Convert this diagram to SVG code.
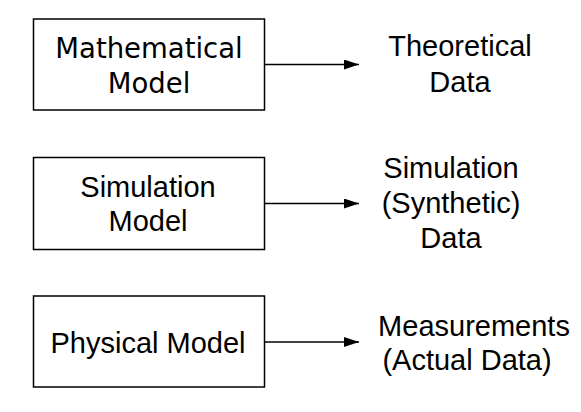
<svg xmlns="http://www.w3.org/2000/svg" width="581" height="412" viewBox="0 0 581 412">
<style>
.box{fill:#fff;stroke:#000;stroke-width:1.5}
.lbl{font-family:"Liberation Sans",Arial,Helvetica,sans-serif;font-size:29px;fill:#000;text-anchor:middle}
.lg{font-family:"DejaVu Sans","Liberation Sans",sans-serif;font-size:27.5px}
.conn{stroke:#000;stroke-width:1.3;fill:none}
</style>
<defs>
<marker id="ah" markerWidth="15" markerHeight="10" refX="15" refY="5" orient="auto" markerUnits="userSpaceOnUse">
<path d="M0,0 L15,5 L0,10 z" fill="#000"/>
</marker>
</defs>
<rect width="581" height="412" fill="#fff"/>
<g id="connectors">
<line class="conn" x1="264" y1="64.5" x2="359" y2="64.5" marker-end="url(#ah)"/>
<line class="conn" x1="264" y1="203.5" x2="359" y2="203.5" marker-end="url(#ah)"/>
<line class="conn" x1="264" y1="342" x2="359" y2="342" marker-end="url(#ah)"/>
</g>
<g id="mathematical-model">
<rect class="box" x="33.5" y="19" width="231" height="91"/>
<text class="lbl lg" x="149" y="58">Mathematical</text>
<text class="lbl lg" x="149" y="93">Model</text>
</g>
<g id="theoretical-data">
<text class="lbl" x="460" y="56">Theoretical</text>
<text class="lbl" x="460" y="92">Data</text>
</g>
<g id="simulation-model">
<rect class="box" x="33.5" y="157.5" width="231" height="92"/>
<text class="lbl" x="148" y="197">Simulation</text>
<text class="lbl" x="148" y="231">Model</text>
</g>
<g id="simulation-data">
<text class="lbl" x="451" y="178">Simulation</text>
<text class="lbl" x="451" y="213">(Synthetic)</text>
<text class="lbl" x="451" y="248">Data</text>
</g>
<g id="physical-model">
<rect class="box" x="33.5" y="296" width="231" height="91"/>
<text class="lbl" x="148" y="353">Physical Model</text>
</g>
<g id="measurements">
<text class="lbl" x="474" y="336">Measurements</text>
<text class="lbl" x="467" y="370">(Actual Data)</text>
</g>
</svg>
